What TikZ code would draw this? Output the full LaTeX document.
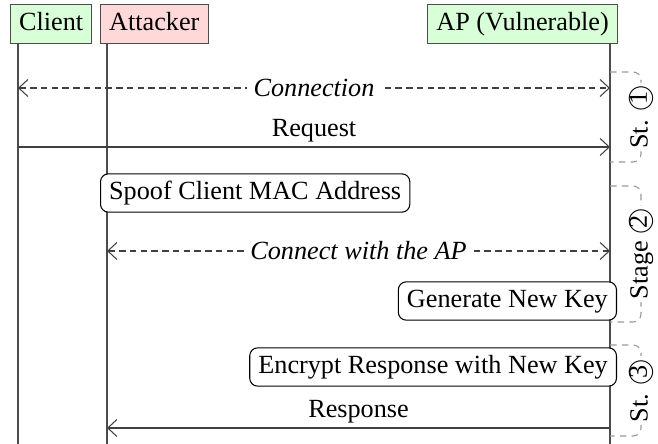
\documentclass[tikz,border=0pt]{standalone}
\usepackage{fontspec}
\setmainfont{Liberation Serif}
\usetikzlibrary{arrows.meta}

\tikzset{
  actor/.style={draw=black!70, inner xsep=3.3pt, inner ysep=3pt, text height=7pt, text depth=2pt},
  actionbox/.style={draw, fill=white, rounded corners=3pt, inner xsep=3.3pt, inner ysep=2.8pt, text height=7pt, text depth=2pt},
  lifeline/.style={draw=black!70},
  msg/.style={black!75, -{Straight Barb[length=3.5pt,width=6.5pt]}},
  msgboth/.style={black!75, dash pattern=on 2.5pt off 1.6pt, {Straight Barb[length=3.5pt,width=6.5pt]}-{Straight Barb[length=3.5pt,width=6.5pt]}},
  msglabel/.style={fill=white, text=black, inner xsep=2.5pt, inner ysep=1pt, font=\itshape},
  steplabel/.style={above, text=black, inner sep=1.5pt},
  stagebox/.style={black!40, dash pattern=on 2.5pt off 2pt, rounded corners=3pt},
  stagelabel/.style={fill=white, text=black, rotate=90, inner sep=1pt, text height=7pt, text depth=2pt}
}

\begin{document}
\begin{tikzpicture}[x=0.3815pt,y=0.3815pt,yscale=-1]
\useasboundingbox (0,0) rectangle (658,444);

% Actors
\node [actor, fill=green!15, anchor=west] (client) at (10,24) {Client};
\node [actor, fill=red!15, anchor=west] (attacker) at (100,24) {Attacker};
\node [actor, fill=green!15, anchor=east] (ap) at (618,24) {AP (Vulnerable)};

% Lifeline ends
\coordinate (clEnd) at (18,444);
\coordinate (atEnd) at (107,444);
\coordinate (apEnd) at (610,444);

%Lifelines
\draw [lifeline] (client.south -| clEnd) -- (clEnd);
\draw [lifeline] (attacker.south -| atEnd) -- (atEnd);
\draw [lifeline] (ap.south -| apEnd) -- (apEnd);

% Message points
\coordinate (clConn) at (18,88);   \coordinate (apConn) at (610,88);
\coordinate (clReq) at (18,147);   \coordinate (apReq) at (610,147);
\coordinate (atConn) at (107,251); \coordinate (apConn2) at (610,251);
\coordinate (apResp) at (610,428); \coordinate (atResp) at (107,428);

%Stage 1
\draw [msgboth] (clConn) -- node [msglabel] {Connection} (apConn);
\draw [msg] (clReq) -- node [steplabel] {Request} (apReq);

%Stage 2
\node [actionbox, anchor=west] (spoof) at (100,193) {Spoof Client MAC Address};
\draw [msgboth] (atConn) -- node [msglabel] {Connect with the AP} (apConn2);
\node [actionbox, anchor=east] (genkey) at (617,301) {Generate New Key};

%Stage 3
\node [actionbox, anchor=east] (encrypt) at (617,367) {Encrypt Response with New Key};
\draw [msg] (apResp) -- node [steplabel] {Response} (atResp);

% Stage brackets
\coordinate (s1top) at (610,72);  \coordinate (s1bot) at (610,162);
\coordinate (s2top) at (610,186); \coordinate (s2bot) at (610,322);
\coordinate (s3top) at (610,345); \coordinate (s3bot) at (610,436);
\draw [stagebox] (s1top) -- ++(31,0) |- node [pos=0.25, stagelabel] {St. \textcircled{1}} (s1bot);
\draw [stagebox] (s2top) -- ++(31,0) |- node [pos=0.25, stagelabel] {Stage \textcircled{2}} (s2bot);
\draw [stagebox] (s3top) -- ++(31,0) |- node [pos=0.25, stagelabel] {St. \textcircled{3}} (s3bot);
\end{tikzpicture}
\end{document}
